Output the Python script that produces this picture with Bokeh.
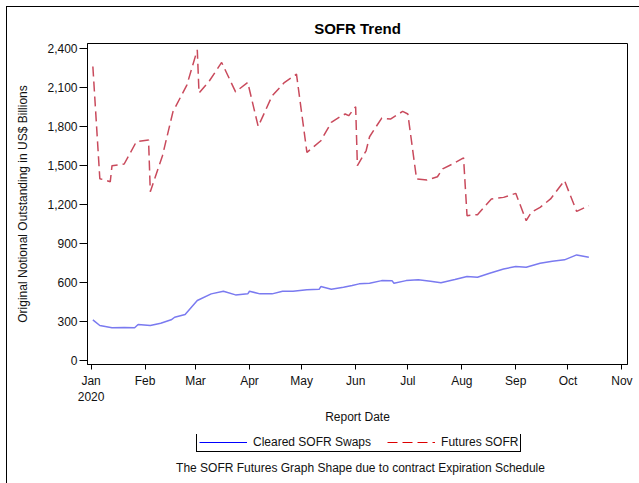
import pandas as pd
from bokeh.plotting import figure
from bokeh.layouts import column
from bokeh.models import (DatetimeTickFormatter, FixedTicker, NumeralTickFormatter,
                          Legend, LegendItem, Label, Range1d, InlineStyleSheet)
from bokeh.embed import file_html
from bokeh.resources import INLINE

# ---- data ----
swap_dates = ["2020-01-02", "2020-01-06", "2020-01-13", "2020-01-20", "2020-01-26", "2020-01-28",
              "2020-02-04", "2020-02-10", "2020-02-16", "2020-02-18", "2020-02-24", "2020-03-02",
              "2020-03-10", "2020-03-17", "2020-03-24", "2020-03-31", "2020-04-01", "2020-04-07",
              "2020-04-14", "2020-04-20", "2020-04-26", "2020-05-04", "2020-05-11", "2020-05-12",
              "2020-05-18", "2020-05-25", "2020-05-30", "2020-06-03", "2020-06-09", "2020-06-16",
              "2020-06-22", "2020-06-23", "2020-06-30", "2020-07-07", "2020-07-14", "2020-07-20",
              "2020-07-28", "2020-08-04", "2020-08-10", "2020-08-17", "2020-08-25", "2020-09-01",
              "2020-09-07", "2020-09-15", "2020-09-22", "2020-09-29", "2020-10-06", "2020-10-13"]
swap_values = [313, 269, 252, 254, 252, 277,
               269, 287, 313, 333, 354, 462,
               513, 533, 505, 513, 533, 513,
               513, 533, 533, 544, 548, 569,
               548, 564, 577, 590, 595, 615,
               613, 595, 615, 621, 610, 598,
               623, 646, 641, 672, 705, 723,
               718, 748, 764, 775, 813, 795]

fut_dates = ["2020-01-02", "2020-01-06", "2020-01-12", "2020-01-13", "2020-01-20", "2020-01-27",
             "2020-02-03", "2020-02-04", "2020-02-11", "2020-02-17", "2020-02-25", "2020-03-02",
             "2020-03-03", "2020-03-09", "2020-03-16", "2020-03-24", "2020-03-31", "2020-04-06",
             "2020-04-14", "2020-04-21", "2020-04-28", "2020-05-04", "2020-05-12", "2020-05-18",
             "2020-05-23", "2020-05-26", "2020-05-28", "2020-06-01", "2020-06-02", "2020-06-07",
             "2020-06-09", "2020-06-16", "2020-06-21", "2020-06-28", "2020-07-01", "2020-07-06",
             "2020-07-12", "2020-07-18", "2020-07-21", "2020-07-27", "2020-08-02", "2020-08-04",
             "2020-08-10", "2020-08-18", "2020-08-25", "2020-09-01", "2020-09-07", "2020-09-10",
             "2020-09-15", "2020-09-21", "2020-09-29", "2020-10-06", "2020-10-13"]
fut_values = [2264, 1400, 1377, 1500, 1513, 1685,
              1698, 1300, 1577, 1915, 2121, 2392,
              2059, 2154, 2295, 2069, 2141, 1802,
              2038, 2140, 2205, 1602, 1692, 1833,
              1877, 1898, 1885, 1954, 1500, 1615,
              1723, 1867, 1859, 1918, 1898, 1398,
              1390, 1415, 1475, 1515, 1560, 1115,
              1123, 1244, 1256, 1287, 1077, 1141,
              1179, 1244, 1385, 1148, 1192]

x_tick_dates = ["2020-01-01", "2020-02-01", "2020-03-01", "2020-04-01", "2020-05-01", "2020-06-01",
                "2020-07-01", "2020-08-01", "2020-09-01", "2020-10-01", "2020-11-01"]
y_ticks = [0, 300, 600, 900, 1200, 1500, 1800, 2100, 2400]

title_text = "SOFR Trend"
x_label = "Report Date"
y_label = "Original Notional Outstanding in US$ Billions"
series_names = ["Cleared SOFR Swaps", "Futures SOFR"]
footnote = "The SOFR Futures Graph Shape due to contract Expiration Schedule"

FONT = "Liberation Sans"

swap_x = pd.to_datetime(swap_dates)
fut_x = pd.to_datetime(fut_dates)
tick_ms = [pd.Timestamp(d).value / 1e6 for d in x_tick_dates]

border_top_css = InlineStyleSheet(css="""
:host::after {
  content: ""; position: absolute; left: 6px; top: 6px; right: 0; bottom: 0;
  border-left: 1px solid black; border-top: 1px solid black;
  pointer-events: none; z-index: 5;
}
""")
border_bottom_css = InlineStyleSheet(css="""
:host::after {
  content: ""; position: absolute; left: 6px; top: 0; right: 0; bottom: 0;
  border-left: 1px solid black;
  pointer-events: none; z-index: 5;
}
""")

p = figure(width=639, height=434, x_axis_type="datetime",
           output_backend="svg", toolbar_location=None,
           x_range=Range1d(pd.Timestamp("2019-12-29 22:00"), pd.Timestamp("2020-11-04 05:00")),
           y_range=Range1d(-31, 2441),
           min_border_left=87, min_border_right=12, min_border_top=43, min_border_bottom=70,
           stylesheets=[border_top_css])

p.title.text = title_text
p.title.align = "center"
p.title.text_font = FONT
p.title.text_font_size = "15px"
p.title.text_font_style = "bold"
p.title.text_color = "black"
p.title.standoff = 14

p.xgrid.visible = False
p.ygrid.visible = False
p.outline_line_color = "black"
p.outline_line_alpha = 1.0

# lines
r_swap = p.line(swap_x, swap_values, line_color="#7a7af0", line_width=1.5)
r_fut = p.line(fut_x, fut_values, line_color="#c94a5c", line_width=1.5, line_dash="10 5")

# axes
xa = p.xaxis[0]
xa.ticker = FixedTicker(ticks=tick_ms)
xa.formatter = DatetimeTickFormatter(
    days="%b", months="%b", years="%b",
    context=DatetimeTickFormatter(days="%Y", months="%Y", years="%Y"),
    context_which="start")
xa.axis_label = x_label
ya = p.yaxis[0]
ya.ticker = FixedTicker(ticks=y_ticks)
ya.formatter = NumeralTickFormatter(format="0,0")
ya.axis_label = y_label

for ax in (xa, ya):
    ax.major_label_text_font = FONT
    ax.major_label_text_font_size = "12px"
    ax.major_label_text_color = "#111111"
    ax.axis_label_text_font = FONT
    ax.axis_label_text_font_size = "12px"
    ax.axis_label_text_font_style = "normal"
    ax.axis_label_text_color = "#111111"
    ax.axis_line_color = "black"
    ax.major_tick_line_color = "black"
    ax.minor_tick_line_color = None
    ax.major_tick_in = 0
xa.major_tick_out = 5
ya.major_tick_out = 8
xa.major_label_standoff = 4
ya.major_label_standoff = 2
xa.axis_label_standoff = 3
ya.axis_label_standoff = 14

# ---- legend + footnote strip below the chart (its frame aligns with the chart's) ----
p2 = figure(width=639, height=49, output_backend="svg", toolbar_location=None,
            x_range=Range1d(0, 1), y_range=Range1d(0, 1),
            x_axis_location=None, y_axis_location=None,
            min_border=0, stylesheets=[border_bottom_css])
p2.xgrid.visible = False
p2.ygrid.visible = False
p2.outline_line_color = None

# legend proxies: hidden copies of the series drawn in the legend's saturated colours
leg_swap = p2.line(swap_x, swap_values, line_color="blue", line_width=1, visible=False)
leg_fut = p2.line(fut_x, fut_values, line_color="#dd0000", line_width=1, line_dash="10 5",
                  visible=False)
legend = Legend(items=[LegendItem(label=series_names[0], renderers=[leg_swap]),
                       LegendItem(label=series_names[1], renderers=[leg_fut])],
                orientation="horizontal", location=(109, 31),
                border_line_color="black", border_line_alpha=1.0,
                label_text_font=FONT, label_text_font_size="12px", label_text_color="#111111",
                glyph_width=48, glyph_height=14, label_height=14, label_standoff=6,
                spacing=16, padding=2, margin=0, background_fill_alpha=1.0,
                inactive_fill_alpha=0.0)
p2.add_layout(legend, "center")

p2.add_layout(Label(x=273, y=16, x_units="screen", y_units="screen", text=footnote,
                    text_align="center", text_baseline="middle", text_font=FONT,
                    text_font_size="12px", text_color="#111111"))

layout = column(p, p2, spacing=0)
open("out.html", "w").write(file_html(layout, INLINE))
